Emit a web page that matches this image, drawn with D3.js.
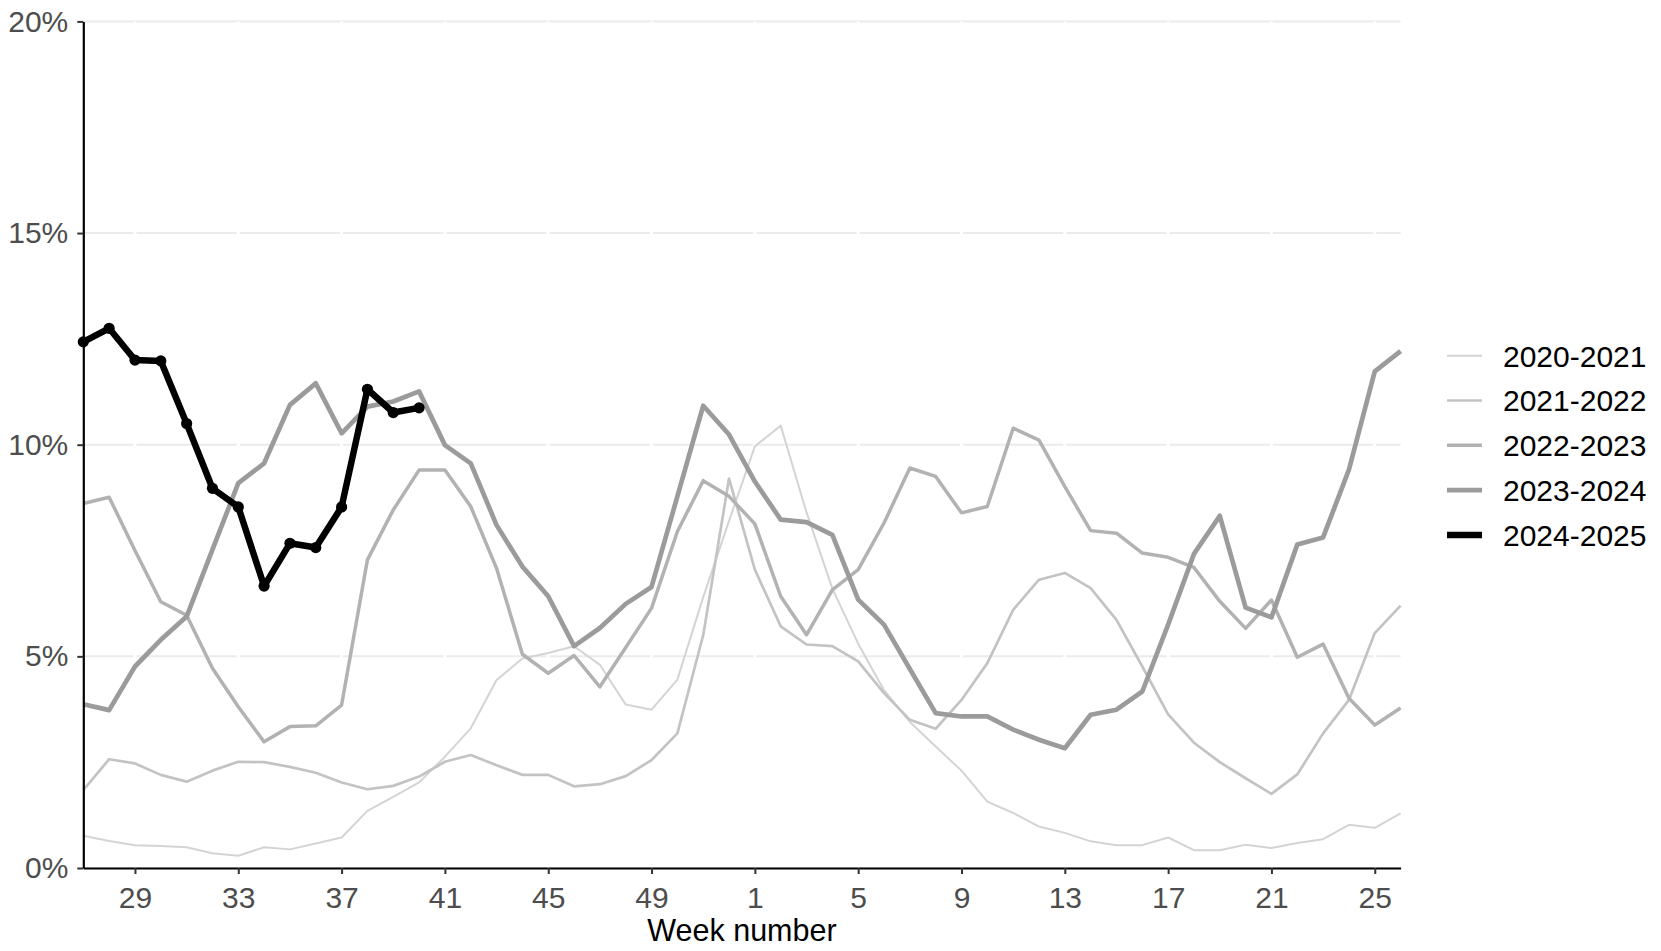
<!DOCTYPE html>
<html>
<head>
<meta charset="utf-8">
<script src="https://cdn.jsdelivr.net/npm/d3@7"></script>
<style>
  html, body { margin: 0; padding: 0; background: #ffffff; }
  svg { display: block; font-family: "Liberation Sans", Arial, Helvetica, sans-serif; }
</style>
</head>
<body>
<svg id="chart" width="1661" height="951"></svg>
<script>
// Week order of the season (27 .. 52, 1 .. 26)
const weeks = [27,28,29,30,31,32,33,34,35,36,37,38,39,40,41,42,43,44,45,46,47,48,49,50,51,52,
               1,2,3,4,5,6,7,8,9,10,11,12,13,14,15,16,17,18,19,20,21,22,23,24,25,26];
const xTickWeeks = [29,33,37,41,45,49,1,5,9,13,17,21,25];
const yTicks = [0,5,10,15,20];
const seasons = ["2020-2021","2021-2022","2022-2023","2023-2024","2024-2025"];

const s2020_2021 = [0.76,0.64,0.54,0.52,0.49,0.35,0.29,0.49,0.44,0.58,0.72,1.35,1.68,2.02,2.63,3.30,4.44,4.95,5.08,5.24,4.80,3.86,3.74,4.45,6.40,8.20,
                    9.96,10.45,8.40,6.60,5.30,4.20,3.45,2.87,2.30,1.57,1.30,0.98,0.83,0.63,0.54,0.54,0.72,0.42,0.42,0.55,0.47,0.59,0.68,1.02,0.95,1.29];
const s2021_2022 = [1.84,2.57,2.47,2.20,2.04,2.30,2.51,2.50,2.39,2.25,2.02,1.86,1.94,2.16,2.51,2.67,2.43,2.20,2.20,1.93,1.98,2.17,2.55,3.18,5.50,9.20,
                    7.05,5.71,5.28,5.24,4.88,4.13,3.50,3.29,3.97,4.84,6.10,6.81,6.97,6.61,5.86,4.76,3.63,2.96,2.50,2.12,1.75,2.21,3.18,3.97,5.55,6.20];
const s2022_2023 = [8.61,8.76,7.50,6.29,5.97,4.72,3.81,2.98,3.34,3.36,3.85,7.28,8.46,9.40,9.40,8.54,7.08,5.05,4.60,5.02,4.28,5.21,6.14,7.95,9.15,8.78,
                    8.13,6.42,5.51,6.57,7.05,8.15,9.45,9.25,8.39,8.54,10.39,10.11,9.01,7.97,7.91,7.44,7.34,7.10,6.30,5.66,6.33,4.98,5.29,4.01,3.38,3.78];
const s2023_2024 = [3.87,3.73,4.76,5.39,5.94,7.52,9.09,9.56,10.94,11.45,10.27,10.90,11.02,11.26,9.99,9.56,8.10,7.12,6.42,5.24,5.67,6.24,6.64,8.78,10.92,10.24,
                    9.13,8.23,8.17,7.87,6.34,5.75,4.70,3.66,3.58,3.58,3.27,3.03,2.83,3.62,3.74,4.17,5.75,7.42,8.32,6.15,5.92,7.64,7.81,9.41,11.73,12.21];
const s2024_2025 = [12.43,12.75,12.00,11.98,10.50,8.97,8.53,6.66,7.67,7.57,8.53,11.31,10.76,10.87];

const seriesValues = [s2020_2021, s2021_2022, s2022_2023, s2023_2024, s2024_2025];
const seriesColors = ["#d4d4d4", "#c3c3c3", "#b2b2b2", "#9b9b9b", "#000000"];
const seriesWidths = [2.0, 2.7, 3.5, 4.7, 6.5];

const svg = d3.select("#chart");
const plotLeft = 83.3, plotRight = 1400.6, plotTop = 21.4, plotBottom = 868;

const x = d3.scaleLinear().domain([0, weeks.length - 1]).range([plotLeft, plotRight]);
const y = d3.scaleLinear().domain([0, 20]).range([plotBottom, plotTop]);

// horizontal grid
svg.append("g").selectAll("line").data(yTicks).join("line")
  .attr("x1", plotLeft).attr("x2", plotRight)
  .attr("y1", d => y(d)).attr("y2", d => y(d))
  .attr("stroke", "#ebebeb").attr("stroke-width", 2);
// white vertical grid at x ticks
svg.append("g").selectAll("line").data(xTickWeeks).join("line")
  .attr("x1", d => x(weeks.indexOf(d))).attr("x2", d => x(weeks.indexOf(d)))
  .attr("y1", plotTop).attr("y2", plotBottom)
  .attr("stroke", "#ffffff").attr("stroke-width", 3);

const line = d3.line().x((d, i) => x(i)).y(d => y(d));

seriesValues.forEach((vals, k) => {
  svg.append("path").datum(vals)
    .attr("d", line)
    .attr("fill", "none")
    .attr("stroke", seriesColors[k])
    .attr("stroke-width", seriesWidths[k])
    .attr("stroke-linejoin", "round")
    .attr("stroke-linecap", "butt");
});

// points for current season
svg.append("g").selectAll("circle").data(s2024_2025).join("circle")
  .attr("cx", (d, i) => x(i)).attr("cy", d => y(d)).attr("r", 5.6)
  .attr("fill", "#000");

// axes
const xAxis = d3.axisBottom(x)
  .tickValues(xTickWeeks.map(w => weeks.indexOf(w)))
  .tickFormat(i => weeks[i])
  .tickSize(6).tickSizeOuter(0).tickPadding(13);
const gx = svg.append("g").attr("transform", `translate(0,${plotBottom})`).call(xAxis);

const yAxis = d3.axisLeft(y).tickValues(yTicks).tickFormat(d => d + "%")
  .tickSize(6).tickSizeOuter(0).tickPadding(9);
const gy = svg.append("g").attr("transform", `translate(${plotLeft},0)`).call(yAxis);

[gx, gy].forEach(g => {
  g.select(".domain").attr("stroke", "#000").attr("stroke-width", 2.2);
  g.selectAll(".tick line").attr("stroke", "#333").attr("stroke-width", 2);
  g.selectAll(".tick text").attr("fill", "#4d4d4d").style("font-size", "30px")
    .style("font-family", '"Liberation Sans", Arial, sans-serif');
});

// x title
svg.append("text").attr("x", (plotLeft + plotRight) / 2).attr("y", 941)
  .attr("text-anchor", "middle").style("font-size", "30.5px").attr("fill", "#000")
  .text("Week number");

// legend
const lg = svg.append("g");
seasons.forEach((s, k) => {
  const yy = 355.7 + k * 44.8;
  lg.append("line").attr("x1", 1447).attr("x2", 1482).attr("y1", yy).attr("y2", yy)
    .attr("stroke", seriesColors[k]).attr("stroke-width", seriesWidths[k]);
  lg.append("text").attr("x", 1503).attr("y", yy).attr("dy", "0.36em")
    .style("font-size", "30px").attr("fill", "#000").text(s);
});
</script>
</body>
</html>
